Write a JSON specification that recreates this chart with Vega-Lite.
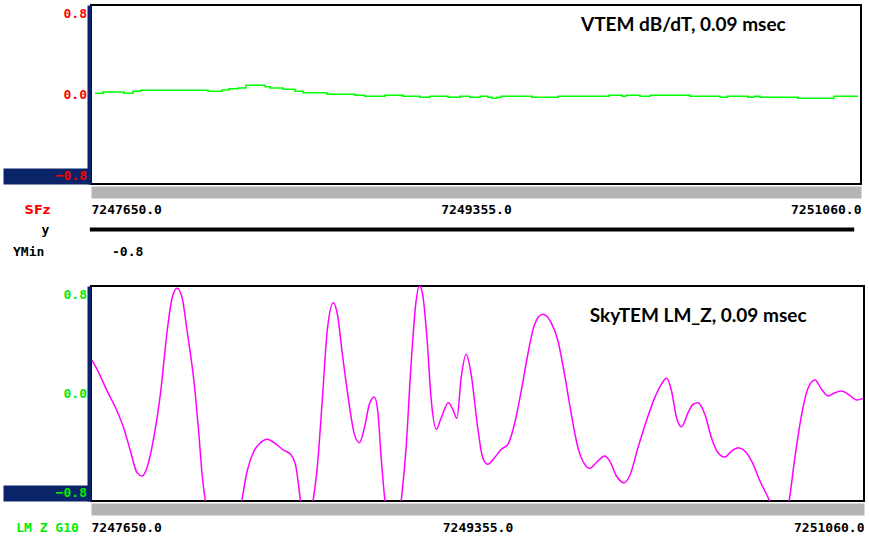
{
  "$schema": "https://vega.github.io/schema/vega-lite/v6.json",
  "background": "white",
  "padding": {"left": -6, "top": -12, "right": 0, "bottom": 0},
  "spacing": 3,
  "config": {
    "view": {"stroke": "black", "strokeWidth": 2},
    "axis": {"grid": false}
  },
  "datasets": {
    "vtem": [
      {"y_coord": 7247668, "dbdt": 0.011}, {"y_coord": 7247703, "dbdt": 0.022}, {"y_coord": 7247778, "dbdt": 0.022},
      {"y_coord": 7247796, "dbdt": 0.011}, {"y_coord": 7247836, "dbdt": 0.029}, {"y_coord": 7247871, "dbdt": 0.037},
      {"y_coord": 7247991, "dbdt": 0.037}, {"y_coord": 7248124, "dbdt": 0.037}, {"y_coord": 7248168, "dbdt": 0.029},
      {"y_coord": 7248230, "dbdt": 0.040}, {"y_coord": 7248261, "dbdt": 0.052}, {"y_coord": 7248301, "dbdt": 0.058},
      {"y_coord": 7248336, "dbdt": 0.082}, {"y_coord": 7248398, "dbdt": 0.082}, {"y_coord": 7248421, "dbdt": 0.070},
      {"y_coord": 7248443, "dbdt": 0.058}, {"y_coord": 7248500, "dbdt": 0.046}, {"y_coord": 7248553, "dbdt": 0.029},
      {"y_coord": 7248589, "dbdt": 0.016}, {"y_coord": 7248695, "dbdt": 0.002}, {"y_coord": 7248819, "dbdt": -0.007},
      {"y_coord": 7248863, "dbdt": -0.016}, {"y_coord": 7248952, "dbdt": -0.007}, {"y_coord": 7249032, "dbdt": -0.016},
      {"y_coord": 7249107, "dbdt": -0.025}, {"y_coord": 7249151, "dbdt": -0.016}, {"y_coord": 7249231, "dbdt": -0.025},
      {"y_coord": 7249284, "dbdt": -0.016}, {"y_coord": 7249328, "dbdt": -0.025}, {"y_coord": 7249373, "dbdt": -0.016},
      {"y_coord": 7249408, "dbdt": -0.025}, {"y_coord": 7249426, "dbdt": -0.034}, {"y_coord": 7249448, "dbdt": -0.025},
      {"y_coord": 7249466, "dbdt": -0.016}, {"y_coord": 7249603, "dbdt": -0.025}, {"y_coord": 7249718, "dbdt": -0.016},
      {"y_coord": 7249944, "dbdt": -0.007}, {"y_coord": 7250002, "dbdt": -0.016}, {"y_coord": 7250019, "dbdt": -0.007},
      {"y_coord": 7250081, "dbdt": -0.016}, {"y_coord": 7250126, "dbdt": -0.007}, {"y_coord": 7250303, "dbdt": -0.016},
      {"y_coord": 7250436, "dbdt": -0.025}, {"y_coord": 7250467, "dbdt": -0.016}, {"y_coord": 7250560, "dbdt": -0.025},
      {"y_coord": 7250586, "dbdt": -0.016}, {"y_coord": 7250613, "dbdt": -0.025}, {"y_coord": 7250723, "dbdt": -0.025},
      {"y_coord": 7250781, "dbdt": -0.034}, {"y_coord": 7250909, "dbdt": -0.034}, {"y_coord": 7250940, "dbdt": -0.016},
      {"y_coord": 7251047, "dbdt": -0.016}
    ],
    "skytem": [
      {"y_coord": 7247654, "lmz": 0.249}, {"y_coord": 7247677, "lmz": 0.180}, {"y_coord": 7247721, "lmz": 0.019},
      {"y_coord": 7247765, "lmz": -0.130}, {"y_coord": 7247794, "lmz": -0.255}, {"y_coord": 7247824, "lmz": -0.428},
      {"y_coord": 7247853, "lmz": -0.589}, {"y_coord": 7247875, "lmz": -0.614}, {"y_coord": 7247897, "lmz": -0.552},
      {"y_coord": 7247927, "lmz": -0.329}, {"y_coord": 7247956, "lmz": -0.006}, {"y_coord": 7247986, "lmz": 0.465},
      {"y_coord": 7248008, "lmz": 0.713}, {"y_coord": 7248030, "lmz": 0.783}, {"y_coord": 7248052, "lmz": 0.713},
      {"y_coord": 7248074, "lmz": 0.465}, {"y_coord": 7248104, "lmz": 0.093}, {"y_coord": 7248126, "lmz": -0.304},
      {"y_coord": 7248140, "lmz": -0.601}, {"y_coord": 7248155, "lmz": -0.805}, {"y_coord": 7248233, "lmz": -1.3},
      {"y_coord": 7248314, "lmz": -0.805}, {"y_coord": 7248339, "lmz": -0.577}, {"y_coord": 7248369, "lmz": -0.428},
      {"y_coord": 7248398, "lmz": -0.366}, {"y_coord": 7248427, "lmz": -0.341}, {"y_coord": 7248457, "lmz": -0.366},
      {"y_coord": 7248501, "lmz": -0.423}, {"y_coord": 7248530, "lmz": -0.452}, {"y_coord": 7248552, "lmz": -0.527},
      {"y_coord": 7248575, "lmz": -0.805}, {"y_coord": 7248602, "lmz": -1.05}, {"y_coord": 7248629, "lmz": -0.805},
      {"y_coord": 7248648, "lmz": -0.552}, {"y_coord": 7248670, "lmz": -0.056}, {"y_coord": 7248692, "lmz": 0.465},
      {"y_coord": 7248719, "lmz": 0.676}, {"y_coord": 7248737, "lmz": 0.589}, {"y_coord": 7248759, "lmz": 0.292},
      {"y_coord": 7248788, "lmz": -0.068}, {"y_coord": 7248812, "lmz": -0.304}, {"y_coord": 7248834, "lmz": -0.366},
      {"y_coord": 7248856, "lmz": -0.255}, {"y_coord": 7248878, "lmz": -0.080}, {"y_coord": 7248900, "lmz": -0.026},
      {"y_coord": 7248915, "lmz": -0.130}, {"y_coord": 7248930, "lmz": -0.478}, {"y_coord": 7248947, "lmz": -0.805},
      {"y_coord": 7248983, "lmz": -1.2}, {"y_coord": 7249018, "lmz": -0.805}, {"y_coord": 7249040, "lmz": -0.403},
      {"y_coord": 7249062, "lmz": 0.217}, {"y_coord": 7249084, "lmz": 0.688}, {"y_coord": 7249099, "lmz": 0.80},
      {"y_coord": 7249113, "lmz": 0.738}, {"y_coord": 7249133, "lmz": 0.391}, {"y_coord": 7249150, "lmz": -0.031},
      {"y_coord": 7249173, "lmz": -0.266}, {"y_coord": 7249195, "lmz": -0.180}, {"y_coord": 7249227, "lmz": -0.068},
      {"y_coord": 7249246, "lmz": -0.118}, {"y_coord": 7249264, "lmz": -0.185}, {"y_coord": 7249283, "lmz": 0.118},
      {"y_coord": 7249305, "lmz": 0.292}, {"y_coord": 7249327, "lmz": 0.143}, {"y_coord": 7249356, "lmz": -0.255},
      {"y_coord": 7249378, "lmz": -0.478}, {"y_coord": 7249400, "lmz": -0.527}, {"y_coord": 7249430, "lmz": -0.478},
      {"y_coord": 7249460, "lmz": -0.415}, {"y_coord": 7249489, "lmz": -0.378}, {"y_coord": 7249518, "lmz": -0.229},
      {"y_coord": 7249548, "lmz": 0.019}, {"y_coord": 7249577, "lmz": 0.292}, {"y_coord": 7249607, "lmz": 0.515},
      {"y_coord": 7249643, "lmz": 0.589}, {"y_coord": 7249680, "lmz": 0.527}, {"y_coord": 7249710, "lmz": 0.391},
      {"y_coord": 7249739, "lmz": 0.143}, {"y_coord": 7249769, "lmz": -0.155}, {"y_coord": 7249798, "lmz": -0.403},
      {"y_coord": 7249828, "lmz": -0.527}, {"y_coord": 7249850, "lmz": -0.557}, {"y_coord": 7249879, "lmz": -0.515},
      {"y_coord": 7249916, "lmz": -0.465}, {"y_coord": 7249938, "lmz": -0.502}, {"y_coord": 7249968, "lmz": -0.614},
      {"y_coord": 7250001, "lmz": -0.664}, {"y_coord": 7250026, "lmz": -0.614}, {"y_coord": 7250063, "lmz": -0.403},
      {"y_coord": 7250100, "lmz": -0.205}, {"y_coord": 7250137, "lmz": -0.031}, {"y_coord": 7250166, "lmz": 0.068},
      {"y_coord": 7250189, "lmz": 0.113}, {"y_coord": 7250211, "lmz": 0.019}, {"y_coord": 7250233, "lmz": -0.180},
      {"y_coord": 7250255, "lmz": -0.247}, {"y_coord": 7250284, "lmz": -0.143}, {"y_coord": 7250306, "lmz": -0.080},
      {"y_coord": 7250328, "lmz": -0.068}, {"y_coord": 7250358, "lmz": -0.155}, {"y_coord": 7250387, "lmz": -0.329},
      {"y_coord": 7250416, "lmz": -0.441}, {"y_coord": 7250446, "lmz": -0.473}, {"y_coord": 7250476, "lmz": -0.428},
      {"y_coord": 7250505, "lmz": -0.403}, {"y_coord": 7250534, "lmz": -0.428}, {"y_coord": 7250564, "lmz": -0.502},
      {"y_coord": 7250601, "lmz": -0.651}, {"y_coord": 7250645, "lmz": -0.805}, {"y_coord": 7250687, "lmz": -1.0},
      {"y_coord": 7250729, "lmz": -0.805}, {"y_coord": 7250755, "lmz": -0.478}, {"y_coord": 7250785, "lmz": -0.155},
      {"y_coord": 7250814, "lmz": 0.043}, {"y_coord": 7250844, "lmz": 0.100}, {"y_coord": 7250873, "lmz": 0.031},
      {"y_coord": 7250902, "lmz": -0.019}, {"y_coord": 7250932, "lmz": 0.006}, {"y_coord": 7250961, "lmz": 0.019},
      {"y_coord": 7250991, "lmz": -0.006}, {"y_coord": 7251028, "lmz": -0.048}, {"y_coord": 7251057, "lmz": -0.036}
    ]
  },
  "vconcat": [
    {
      "width": 770,
      "height": 179,
      "layer": [
        {
          "data": {"name": "vtem"},
          "mark": {"type": "line", "color": "#00ff00", "strokeWidth": 1.5, "interpolate": "step-after", "clip": true},
          "encoding": {
            "x": {
              "field": "y_coord", "type": "quantitative",
              "scale": {"domain": [7247650, 7251060], "nice": false, "zero": false},
              "axis": {
                "values": [7247650, 7249355, 7251060], "format": ".1f", "labelFlush": true,
                "domainColor": "#b4b4b4", "domainWidth": 12, "offset": 8, "ticks": false, "labelPadding": 11,
                "labelFont": "DejaVu Sans Mono", "labelFontWeight": "bold", "labelFontSize": 13, "labelColor": "black",
                "title": "SFz", "titleColor": "#ff0000", "titleFont": "DejaVu Sans", "titleFontWeight": "bold", "titleFontSize": 13,
                "titleX": -54, "titleY": 17, "titleAlign": "center", "titleBaseline": "middle"
              }
            },
            "y": {
              "field": "dbdt", "type": "quantitative",
              "scale": {"domain": [-0.8, 0.8], "nice": false, "zero": false},
              "axis": {
                "values": [-0.8, 0, 0.8], "format": ".1f", "labelFlush": true, "labelFlushOffset": -2, "labelOffset": 8,
                "labelColor": "#ff0000", "labelFont": "DejaVu Sans Mono", "labelFontWeight": "bold", "labelFontSize": 13,
                "domainColor": "#0a246a", "domainWidth": 4, "offset": 2,
                "ticks": true, "tickSize": 86, "tickWidth": 16, "tickOffset": -8,
                "tickColor": {"condition": {"test": "datum.value < -0.5", "value": "#0a246a"}, "value": "rgba(0,0,0,0)"},
                "labelPadding": -83.5, "title": null
              }
            }
          }
        },
        {
          "data": {"values": [{"label": "VTEM dB/dT, 0.09 msec"}]},
          "mark": {"type": "text", "align": "left", "baseline": "middle", "font": "Lato", "fontWeight": "bold", "fontSize": 19, "color": "black"},
          "encoding": {
            "x": {"datum": 7249820, "type": "quantitative"},
            "y": {"datum": 0.62, "type": "quantitative"},
            "text": {"field": "label"}
          }
        }
      ]
    },
    {
      "width": 770,
      "height": 46,
      "view": {"stroke": null},
      "layer": [
        {
          "data": {"values": [{"row": "y", "start": 7247645, "end": 7251030}]},
          "mark": {"type": "rule", "color": "black", "strokeWidth": 4},
          "encoding": {
            "x": {"field": "start", "type": "quantitative", "scale": {"domain": [7247650, 7251060], "nice": false, "zero": false}, "axis": null},
            "x2": {"field": "end"},
            "y": {
              "field": "row", "type": "nominal", "scale": {"domain": ["y", "YMin"], "range": [-1.5, 42.5]},
              "axis": {"domain": false, "ticks": false, "labelAlign": "center", "labelPadding": 46,
                "labelExpr": "datum.value == 'YMin' ? '' : datum.label",
                "labelFont": "DejaVu Sans Mono", "labelFontWeight": "bold", "labelFontSize": 13, "labelColor": "black", "title": null}
            }
          }
        },
        {
          "data": {"values": [{"row": "YMin", "value": "-0.8", "name": "YMin"}]},
          "layer": [
            {
              "mark": {"type": "text", "align": "left", "baseline": "middle", "dx": 21, "font": "DejaVu Sans Mono", "fontWeight": "bold", "fontSize": 13, "color": "black"},
              "encoding": {
                "x": {"datum": 7247650, "type": "quantitative"},
                "y": {"field": "row", "type": "nominal"},
                "text": {"field": "value"}
              }
            },
            {
              "mark": {"type": "text", "align": "left", "baseline": "middle", "dx": -78, "font": "DejaVu Sans Mono", "fontWeight": "bold", "fontSize": 13, "color": "black"},
              "encoding": {
                "x": {"datum": 7247650, "type": "quantitative"},
                "y": {"field": "row", "type": "nominal"},
                "text": {"field": "name"}
              }
            }
          ]
        }
      ]
    },
    {
      "width": 773,
      "height": 215,
      "layer": [
        {
          "data": {"name": "skytem"},
          "mark": {"type": "line", "color": "#ff00ff", "strokeWidth": 1.5, "interpolate": "monotone", "clip": true},
          "encoding": {
            "x": {
              "field": "y_coord", "type": "quantitative",
              "scale": {"domain": [7247650, 7251060], "nice": false, "zero": false},
              "axis": {
                "values": [7247650, 7249355, 7251060], "format": ".1f", "labelFlush": true,
                "domainColor": "#b4b4b4", "domainWidth": 12, "offset": 8, "ticks": false, "labelPadding": 12,
                "labelFont": "DejaVu Sans Mono", "labelFontWeight": "bold", "labelFontSize": 13, "labelColor": "black",
                "title": "LM Z G10", "titleColor": "#00ee00", "titleFont": "DejaVu Sans Mono", "titleFontWeight": "bold", "titleFontSize": 13,
                "titleX": -44, "titleY": 18, "titleAlign": "center", "titleBaseline": "middle"
              }
            },
            "y": {
              "field": "lmz", "type": "quantitative",
              "scale": {"domain": [-0.8, 0.8], "nice": false, "zero": false},
              "axis": {
                "values": [-0.8, 0, 0.8], "format": ".1f", "labelFlush": true, "labelFlushOffset": -2, "labelOffset": 8,
                "labelColor": "#00ee00", "labelFont": "DejaVu Sans Mono", "labelFontWeight": "bold", "labelFontSize": 13,
                "domainColor": "#0a246a", "domainWidth": 4, "offset": 2,
                "ticks": true, "tickSize": 86, "tickWidth": 16, "tickOffset": -8,
                "tickColor": {"condition": {"test": "datum.value < -0.5", "value": "#0a246a"}, "value": "rgba(0,0,0,0)"},
                "labelPadding": -83.5, "title": null
              }
            }
          }
        },
        {
          "data": {"values": [{"label": "SkyTEM LM_Z, 0.09 msec"}]},
          "mark": {"type": "text", "align": "left", "baseline": "middle", "font": "Lato", "fontWeight": "bold", "fontSize": 19, "color": "black"},
          "encoding": {
            "x": {"datum": 7249850, "type": "quantitative"},
            "y": {"datum": 0.577, "type": "quantitative"},
            "text": {"field": "label"}
          }
        }
      ]
    }
  ]
}
